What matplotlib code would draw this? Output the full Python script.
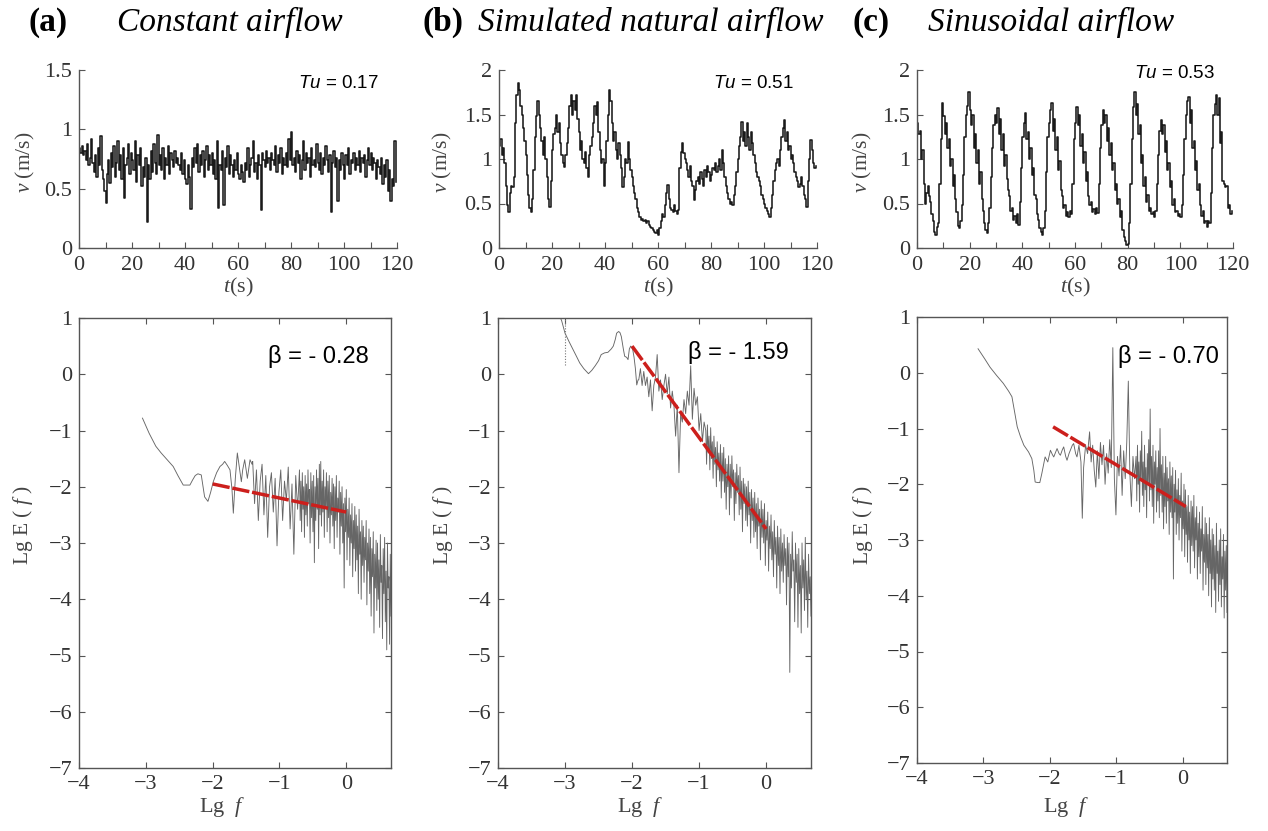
import numpy as np
import matplotlib
matplotlib.use("Agg")
import matplotlib.pyplot as plt

W, H = 1268, 831

plt.rcParams["font.family"] = ["Liberation Serif", "DejaVu Serif"]
plt.rcParams["mathtext.fontset"] = "custom"
plt.rcParams["mathtext.rm"] = "Liberation Serif"
plt.rcParams["mathtext.it"] = "Liberation Serif:italic"
plt.rcParams["mathtext.sf"] = "Liberation Sans:italic"

# ---- time series, v in cm/s, sampled every 0.5 s ----
v_constant = [
    84, 80, 86, 78, 82, 74, 88, 70, 76, 92,
    72, 64, 78, 60, 84, 70, 94, 66, 58, 48,
    38, 62, 74, 55, 80, 68, 86, 60, 72, 90,
    66, 78, 58, 84, 42, 70, 76, 88, 62, 80,
    74, 66, 90, 56, 78, 70, 84, 52, 68, 60,
    76, 22, 70, 58, 82, 64, 88, 72, 62, 95,
    70, 78, 66, 84, 58, 76, 70, 86, 62, 80,
    74, 68, 82, 72, 76, 70, 66, 80, 62, 74,
    58, 54, 70, 60, 33, 76, 68, 84, 72, 88,
    64, 78, 70, 82, 60, 74, 86, 66, 78, 70,
    80, 62, 74, 58, 90, 34, 70, 66, 82, 36,
    76, 68, 86, 62, 78, 70, 60, 74, 66, 80,
    62, 58, 70, 64, 56, 72, 66, 84, 60, 70,
    76, 90, 64, 72, 58, 78, 70, 32, 80, 74,
    68, 82, 72, 76, 66, 80, 74, 70, 86, 64,
    78, 72, 84, 62, 76, 70, 80, 68, 92, 74,
    98, 70, 76, 64, 82, 72, 78, 58, 74, 90,
    66, 80, 72, 76, 60, 84, 70, 74, 68, 88,
    72, 66, 80, 62, 76, 70, 86, 74, 64, 78,
    30, 72, 82, 68, 76, 40, 74, 66, 80, 70,
    58, 78, 70, 84, 62, 74, 72, 80, 66, 76,
    70, 82, 64, 76, 72, 78, 60, 74, 84, 70,
    80, 66, 76, 72, 58, 74, 68, 62, 76, 54,
    70, 60, 74, 48, 66, 40, 58, 52, 90, 56,
]

v_natural = [
    115, 122, 105, 112, 95, 70, 48, 40, 62, 70,
    68, 80, 140, 172, 185, 178, 160, 150, 135, 120,
    105, 82, 60, 45, 40, 55, 88, 125, 148, 165,
    150, 135, 120, 105, 125, 100, 80, 55, 46, 75,
    110, 128, 135, 149, 130, 140, 118, 105, 95, 91,
    105, 118, 135, 160, 172, 150, 165, 155, 172, 145,
    130, 110, 120, 100, 95, 108, 90, 80, 105, 115,
    125, 140, 160, 150, 164, 130, 110, 95, 100, 70,
    95, 120, 150, 178, 165, 140, 120, 130, 110, 100,
    118, 105, 90, 69, 80, 100, 95, 119, 100, 88,
    80, 70, 62, 55, 45, 40, 35, 32, 33, 30,
    32, 28, 30, 26, 24, 22, 20, 18, 17, 20,
    15, 22, 30, 38, 35, 48, 62, 71, 55, 45,
    43, 40, 48, 42, 38, 43, 90, 108, 118, 107,
    100, 95, 88, 80, 92, 75, 70, 54, 65, 75,
    80, 72, 85, 78, 70, 88, 80, 92, 85, 75,
    82, 90, 88, 95, 85, 92, 100, 88, 110, 95,
    80, 70, 62, 55, 50, 52, 48, 60, 70, 85,
    100, 115, 125, 142, 120, 130, 115, 140, 125, 110,
    130, 118, 105, 95, 85, 80, 75, 70, 60, 55,
    50, 45, 42, 38, 35, 45, 60, 75, 88, 95,
    100, 92, 110, 125, 135, 144, 120, 130, 110, 115,
    100, 105, 95, 85, 80, 75, 68, 72, 80, 70,
    60, 55, 46, 75, 100, 121, 110, 95, 90, 92,
]

v_sine = [
    140, 128, 132, 100, 110, 72, 50, 62, 70, 58,
    52, 38, 30, 18, 15, 24, 28, 72, 122, 163,
    148, 128, 140, 112, 122, 92, 100, 70, 82, 55,
    40, 25, 22, 30, 48, 82, 125, 150, 160, 175,
    155, 138, 150, 112, 128, 95, 110, 72, 85, 55,
    42, 28, 20, 17, 28, 45, 80, 112, 138, 150,
    140, 157, 128, 145, 110, 128, 92, 105, 78, 65,
    58, 42, 45, 32, 36, 28, 38, 26, 52, 90,
    125, 140, 152, 122, 130, 100, 112, 82, 90, 60,
    55, 38, 32, 22, 18, 15, 22, 42, 85, 125,
    140, 155, 163, 132, 145, 110, 125, 88, 98, 65,
    58, 45, 48, 36, 40, 35, 42, 38, 72, 122,
    140, 158, 138, 150, 115, 128, 95, 108, 75, 85,
    58, 48, 52, 40, 44, 38, 45, 39, 72, 112,
    138, 155, 140, 150, 120, 135, 105, 118, 88, 95,
    65, 72, 50, 55, 35, 42, 20, 12, 8, 3,
    5, 28, 72, 122, 158, 175, 150, 162, 128, 138,
    95, 105, 70, 80, 52, 60, 42, 45, 38, 40,
    35, 42, 72, 105, 132, 144, 128, 138, 108, 120,
    88, 95, 68, 75, 48, 55, 40, 42, 36, 38,
    35, 48, 82, 122, 150, 165, 170, 140, 155, 112,
    120, 88, 98, 65, 72, 48, 36, 42, 28, 30,
    24, 30, 28, 62, 112, 150, 162, 172, 150, 168,
    118, 130, 75, 72, 68, 70, 45, 48, 38, 42,
]
dt = 0.5
tu_labels = ["0.17", "0.51", "0.53"]

# ---- spectra: smooth low-frequency part (x, y) + dense parts (y on even log-f grid) ----
spec_a_x = [-3.05, -2.95, -2.85, -2.77, -2.68, -2.59, -2.52, -2.44, -2.38, -2.34, -2.30, -2.26,
            -2.22, -2.17, -2.12, -2.07, -2.03, -1.99, -1.94, -1.89, -1.85, -1.82, -1.78, -1.74,
            -1.71, -1.69, -1.66, -1.63, -1.60, -1.57, -1.55, -1.52, -1.48, -1.44, -1.41]
spec_a_y = [-0.78, -1.05, -1.28, -1.40, -1.52, -1.64, -1.80, -1.97, -1.97, -1.97, -1.88, -1.80,
            -1.77, -1.79, -2.18, -2.26, -2.10, -1.91, -1.75, -1.64, -1.60, -1.55, -1.62, -1.70,
            -2.05, -2.47, -1.85, -1.40, -1.65, -1.91, -1.70, -1.52, -1.85, -1.52, -1.60]
spec_a_mid = [-1.55, -2.3, -1.7, -2.6, -1.9, -1.6, -2.5, -1.8, -2.9, -2.0, -1.75, -2.45, -1.85,
              -3.05, -2.1, -1.7, -2.6, -1.9, -2.25, -1.65, -2.75, -1.95, -3.2, -1.8, -2.4]
spec_a_high = [
    -1.7, -2.6, -1.9, -2.8, -1.75, -2.4, -2.0, -2.9, -1.8, -2.5,
    -1.95, -2.7, -1.7, -2.3, -2.05, -3.0, -1.75, -2.55, -1.9, -2.8,
    -1.8, -3.35, -2.0, -2.6, -1.7, -2.4, -1.85, -3.1, -1.6, -2.5,
    -1.55, -2.7, -1.9, -2.45, -1.7, -2.9, -2.0, -2.35, -1.75, -2.8,
    -1.9, -2.55, -1.8, -3.0, -2.1, -2.5, -1.85, -2.7, -1.95, -3.1,
    -2.0, -2.6, -1.8, -2.9, -2.2, -2.45, -1.9, -3.2, -2.1, -2.7,
    -2.0, -3.0, -2.3, -3.8, -2.2, -2.8, -2.05, -3.3, -2.4, -2.9,
    -2.2, -3.4, -2.5, -3.0, -2.3, -3.6, -2.6, -3.1, -2.35, -3.5,
    -2.5, -3.3, -2.7, -3.9, -2.4, -3.2, -2.8, -4.0, -2.6, -3.4,
    -2.7, -3.7, -2.9, -3.3, -2.6, -4.1, -3.0, -3.5, -2.75, -3.9,
    -2.9, -4.3, -3.1, -3.6, -2.8, -4.6, -3.2, -3.8, -2.95, -4.2,
    -3.0, -4.0, -3.3, -4.5, -2.85, -3.7, -3.4, -4.7, -3.1, -3.9,
    -2.9, -4.4, -3.5, -4.9, -3.0, -3.8, -3.6, -4.8, -3.2, -4.3,
]

spec_b_x = [-3.12, -3.05, -3.0, -2.94, -2.88, -2.83, -2.78, -2.72, -2.65, -2.60, -2.55, -2.50,
            -2.46, -2.41, -2.36, -2.31, -2.28, -2.25, -2.23, -2.20, -2.18, -2.16, -2.13, -2.11,
            -2.08, -2.06, -2.04, -2.02, -1.99, -1.97, -1.95, -1.93, -1.91]
spec_b_y = [1.15, 0.95, 0.73, 0.58, 0.44, 0.32, 0.20, 0.10, 0.01, 0.07, 0.15, 0.24,
            0.35, 0.38, 0.39, 0.45, 0.50, 0.62, 0.73, 0.76, 0.74, 0.67, 0.45, 0.32,
            0.30, 0.26, 0.45, 0.50, 0.44, 0.30, 0.10, -0.19, -0.10]
spec_b_mid = [-0.10, 0.10, -0.20, 0.05, -0.20, -0.05, -0.40, -0.10, -0.65, -0.20,
              -0.05, 0.35, -0.30, -0.10, -0.45, -0.20, 0.00, -0.35, -0.05, -0.60,
              -0.30, -0.55, -1.10, -0.55, -1.75, -0.70, -0.85, -0.45, -0.70, -0.30,
              -0.55, 0.15, -0.80, -0.25, -0.55, -0.40, -1.00, -0.70, -1.20, -0.85]
spec_b_high = [
    -1.0, -1.6, -0.9, -1.4, -1.1, -1.7, -0.95, -1.5, -1.2, -1.85,
    -1.1, -1.6, -1.3, -2.0, -1.2, -1.7, -1.4, -1.9, -1.25, -2.2,
    -1.4, -1.9, -1.3, -2.1, -1.5, -2.4, -1.6, -2.0, -1.45, -2.5,
    -1.6, -2.2, -1.45, -2.0, -1.7, -2.6, -1.75, -2.3, -1.6, -2.1,
    -1.8, -2.5, -1.65, -2.4, -1.9, -2.8, -1.85, -2.3, -1.95, -2.6,
    -2.0, -2.7, -1.9, -2.5, -2.1, -3.0, -2.05, -2.6, -2.2, -2.9,
    -2.1, -2.8, -2.3, -3.1, -2.2, -2.7, -2.4, -3.3, -2.25, -2.9,
    -2.4, -3.0, -2.3, -3.4, -2.6, -2.95, -2.45, -3.5, -2.7, -3.1,
    -2.5, -3.3, -2.8, -3.6, -2.6, -3.2, -2.9, -3.8, -2.7, -3.4,
    -2.9, -3.9, -2.75, -3.5, -3.0, -3.7, -2.85, -3.4, -3.1, -4.1,
    -2.9, -3.6, -3.0, -5.3, -3.2, -3.8, -2.8, -3.5, -3.3, -4.4,
    -3.0, -3.7, -3.2, -4.5, -3.1, -3.9, -3.4, -4.6, -3.0, -3.8,
    -3.3, -4.2, -2.9, -4.0, -3.5, -4.5, -3.2, -3.9, -3.6, -4.3,
]

spec_c_x = [-3.08, -2.98, -2.90, -2.80, -2.70, -2.62, -2.57, -2.53, -2.49, -2.44, -2.39, -2.32,
            -2.27, -2.24, -2.22, -2.18, -2.15, -2.12, -2.07, -2.03, -1.99, -1.96, -1.94, -1.91,
            -1.89, -1.86, -1.84, -1.81, -1.79, -1.76, -1.74, -1.71, -1.69, -1.66, -1.64, -1.61,
            -1.59, -1.56, -1.53, -1.51, -1.49, -1.46, -1.43]
spec_c_y = [0.43, 0.25, 0.10, -0.05, -0.19, -0.33, -0.43, -0.70, -0.97, -1.15, -1.30, -1.42,
            -1.54, -1.75, -1.96, -1.97, -1.97, -1.81, -1.51, -1.60, -1.39, -1.47, -1.51, -1.42,
            -1.36, -1.45, -1.48, -1.38, -1.33, -1.50, -1.57, -1.45, -1.39, -1.30, -1.27, -1.45,
            -1.51, -1.30, -1.60, -2.61, -1.70, -1.30, -1.45]
spec_c_mid = [-1.06, -1.6, -1.3, -1.75, -2.05, -1.4, -1.9, -1.25, -1.65, -1.3,
              -2.0, -1.45, -1.8, -1.2, -1.7, 0.45, -1.9, -2.55, -1.5, -1.85,
              -1.3, -2.2, -1.4, -1.9, -1.25, -0.15, -1.8, -2.4, -1.5, -1.9]
spec_c_high = [
    -1.5, -2.3, -1.3, -2.0, -1.6, -2.5, -1.4, -1.9, -1.05, -2.2,
    -1.6, -2.4, -1.3, -2.1, -1.7, -2.6, -1.45, -2.0, -1.2, -2.3,
    -0.65, -2.1, -1.5, -2.4, -1.3, -2.7, -1.6, -2.0, -1.4, -2.5,
    -1.7, -2.3, -1.4, -2.6, -1.0, -2.2, -1.65, -2.5, -1.5, -2.8,
    -1.8, -2.4, -1.5, -2.7, -1.7, -2.3, -1.9, -2.9, -1.6, -2.5,
    -1.85, -2.6, -1.7, -3.7, -2.0, -2.5, -1.75, -2.9, -2.1, -2.7,
    -1.9, -3.0, -2.2, -2.6, -1.8, -3.2, -2.3, -2.8, -2.0, -3.3,
    -2.1, -2.9, -2.4, -3.4, -2.2, -3.0, -2.5, -3.6, -2.3, -3.1,
    -2.4, -3.2, -2.2, -3.5, -2.6, -3.0, -2.4, -3.7, -2.7, -3.3,
    -2.5, -3.6, -2.8, -3.2, -2.4, -3.9, -2.9, -3.4, -2.6, -3.8,
    -2.7, -3.5, -2.9, -4.0, -2.6, -3.6, -3.0, -4.2, -2.8, -3.7,
    -2.9, -3.9, -3.1, -4.3, -2.7, -3.6, -3.2, -4.1, -3.0, -3.8,
    -2.8, -4.2, -3.3, -3.7, -2.9, -4.4, -3.2, -3.9, -3.1, -4.3,
]

# log-f ranges of the dense segments (start of mid, start of high, end)
spec_ranges = [(-1.40, -0.70, 0.67), (-1.90, -0.90, 0.67), (-1.40, -0.70, 0.67)]

# fitted slope lines: (x0, x1), (y0, y1)
fit_x = [(-2.0, 0.0), (-2.0, 0.0), (-1.95, 0.05)]
fit_y = [(-1.95, -2.45), (0.50, -2.75), (-0.97, -2.40)]
betas = ["- 0.28", "- 1.59", "- 0.70"]

titles = ["Constant airflow", "Simulated natural airflow", "Sinusoidal airflow"]
letters = ["(a)", "(b)", "(c)"]


def px_axes(fig, left, right, top, bottom):
    return fig.add_axes([left / W, 1 - bottom / H, (right - left) / W, (bottom - top) / H])


def fx(x):
    return x / W


def fy(y):
    return 1 - y / H


fig = plt.figure(figsize=(W / 100, H / 100), dpi=100)

top_boxes = [(79, 397, 70, 248), (499, 817, 70, 248), (917, 1233, 70, 248)]
bot_boxes = [(79, 391, 318, 768), (498, 811, 318, 768), (917, 1227, 317, 763)]
series = [v_constant, v_natural, v_sine]
ymaxes = [1.5, 2.0, 2.0]

spine_c = "#555555"
tick_c = "#333333"

# titles
title_x = [(29, 117), (423, 478), (853, 928)]
for i in range(3):
    fig.text(fx(title_x[i][0]), fy(22), letters[i], fontsize=24, fontweight="bold",
             ha="left", va="center")
    fig.text(fx(title_x[i][1]), fy(22), titles[i], fontsize=24, style="italic",
             ha="left", va="center")

# ---- top row: velocity time series ----
tu_pos = [(298, 84), (713, 84), (1134, 73)]
vlab_x = [25, 442, 862]
for i in range(3):
    ax = px_axes(fig, *top_boxes[i])
    v = np.array(series[i]) / 100.0
    t = np.arange(len(v)) * dt
    ax.step(t, v, where="post", color="#1a1a1a", lw=1.15)
    ax.set_xlim(0, 120)
    ax.set_ylim(0, ymaxes[i])
    ax.spines["top"].set_visible(False)
    ax.spines["right"].set_visible(False)
    for s in ("left", "bottom"):
        ax.spines[s].set_color(spine_c)
        ax.spines[s].set_linewidth(1.0)
    ax.set_xticks(range(0, 121, 20))
    ax.set_xticks(range(10, 120, 20), minor=True)
    if ymaxes[i] == 1.5:
        ax.set_yticks([0, 0.5, 1, 1.5])
        ax.set_yticklabels(["0", "0.5", "1", "1.5"])
    else:
        ax.set_yticks([0, 0.5, 1, 1.5, 2])
        ax.set_yticklabels(["0", "0.5", "1", "1.5", "2"])
    ax.tick_params(which="both", direction="in", length=4, width=0.8, color=spine_c)
    ax.tick_params(axis="x", labelsize=16, labelcolor=tick_c, pad=6)
    ax.tick_params(axis="y", labelsize=16, labelcolor=tick_c, pad=5)
    fig.text(fx(vlab_x[i]), fy(162), r"$\mathit{v}$ (m/s)", rotation=90, fontsize=15.5,
             color="#444444", ha="center", va="center")
    cx = (top_boxes[i][0] + top_boxes[i][1]) / 2
    fig.text(fx(cx), fy(287), r"$\mathit{t}$(s)", fontsize=16, color="#444444",
             ha="center", va="center")
    fig.text(fx(tu_pos[i][0]), fy(tu_pos[i][1]), r"$\mathsf{Tu}$ = " + tu_labels[i],
             fontsize=13.5, family="Liberation Sans", ha="left", va="center")

# ---- bottom row: spectra ----
smooth_x = [spec_a_x, spec_b_x, spec_c_x]
smooth_y = [spec_a_y, spec_b_y, spec_c_y]
mid_y = [spec_a_mid, spec_b_mid, spec_c_mid]
high_y = [spec_a_high, spec_b_high, spec_c_high]
beta_pos = [(268, 356), (688, 353), (1118, 356)]
elab_x = [23, 443, 863]
flab_x = [222, 640, 1066]
for i in range(3):
    ax = px_axes(fig, *bot_boxes[i])
    x0, x1, x2 = spec_ranges[i]
    xm = np.linspace(x0, x1, len(mid_y[i]), endpoint=False)
    xh = np.linspace(x1, x2, len(high_y[i]))
    xs = np.concatenate([smooth_x[i], xm, xh])
    ys = np.concatenate([smooth_y[i], mid_y[i], high_y[i]])
    ax.plot(xs, ys, color="#666666", lw=0.65)
    if i == 1:
        ax.plot([-3.0, -3.0], [0.17, 1.0], color="#777777", lw=0.8, ls=(0, (1, 1.5)))
    ax.plot(fit_x[i], fit_y[i], color="#cc1f1c", lw=2.5, ls=(0, (5, 0.8)),
            solid_capstyle="butt")
    ax.set_xlim(-4, 0.67)
    ax.set_ylim(-7, 1)
    ax.set_xticks([-4, -3, -2, -1, 0])
    ax.set_yticks(range(-7, 2))
    for s in ax.spines.values():
        s.set_color(spine_c)
        s.set_linewidth(1.0)
    ax.tick_params(direction="in", top=True, right=True, length=4, width=0.8,
                   color=spine_c, labelsize=16, labelcolor=tick_c, pad=5)
    fig.text(fx(beta_pos[i][0]), fy(beta_pos[i][1]), "\u03b2 = " + betas[i], fontsize=17,
             family="Liberation Sans", ha="left", va="center")
    fig.text(fx(elab_x[i]), fy(525), r"Lg E ( $\mathit{f}$ )", rotation=90, fontsize=15.5,
             color="#444444", ha="center", va="center")
    fig.text(fx(flab_x[i]), fy(807), r"Lg  $\mathit{f}$", fontsize=16, color="#444444",
             ha="center", va="center")

fig.savefig("out.png", dpi=100)
